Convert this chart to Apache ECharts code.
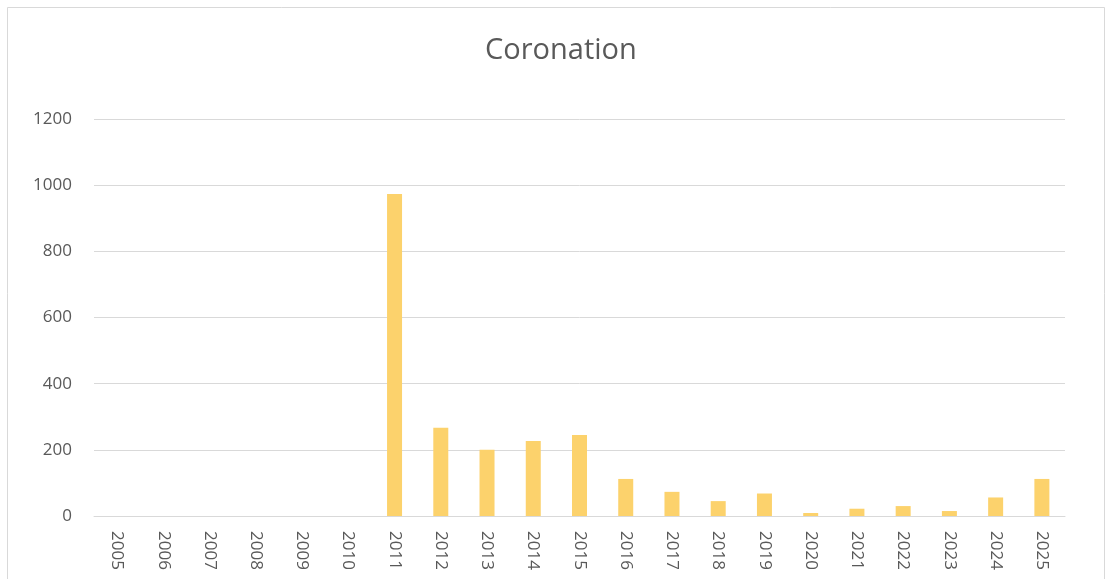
<!DOCTYPE html>
<html>
<head>
<meta charset="utf-8">
<script src="https://cdn.jsdelivr.net/npm/echarts@6/dist/echarts.min.js"></script>
<style>
html,body{margin:0;padding:0;background:#fff;}
#c{width:1108px;height:579px;}
</style>
</head>
<body>
<div id="c"></div>
<script>
const categories = ['2005','2006','2007','2008','2009','2010','2011','2012','2013','2014','2015','2016','2017','2018','2019','2020','2021','2022','2023','2024','2025'];
const values = [0,0,0,0,0,0,973,267,200,227,245,112,73,45,68,9,22,30,15,56,112];
const yTicks = [0,200,400,600,800,1000,1200];

const chart = echarts.init(document.getElementById('c'));
chart.setOption({
  animation: false,
  backgroundColor: '#ffffff',
  title: {
    text: 'Coronation',
    left: 480,
    top: 31,
    textStyle: {color: '#595959', fontSize: 29, fontWeight: 'normal', fontFamily: 'Open Sans'}
  },
  graphic: [{
    type: 'rect',
    shape: {x: 7.5, y: 7.5, width: 1097, height: 590},
    style: {fill: 'none', stroke: '#d9d9d9', lineWidth: 1},
    silent: true
  }],
  grid: {left: 94, right: 43, top: 119, bottom: 63},
  xAxis: {
    type: 'category',
    data: categories,
    axisLine: {lineStyle: {color: '#d9d9d9'}},
    axisTick: {show: false},
    axisLabel: {rotate: -90, color: '#595959', fontSize: 17, fontFamily: 'Open Sans', margin: 15, interval: 0}
  },
  yAxis: {
    type: 'value',
    min: yTicks[0],
    max: yTicks[yTicks.length - 1],
    interval: 200,
    axisLine: {show: false},
    axisTick: {show: false},
    splitLine: {lineStyle: {color: '#d9d9d9'}},
    axisLabel: {color: '#595959', fontSize: 17, fontFamily: 'Open Sans', margin: 22, formatter: v => String(v)}
  },
  series: [{
    type: 'bar',
    data: values,
    barWidth: 15,
    itemStyle: {color: '#FCD26C'}
  }]
});
</script>
</body>
</html>
